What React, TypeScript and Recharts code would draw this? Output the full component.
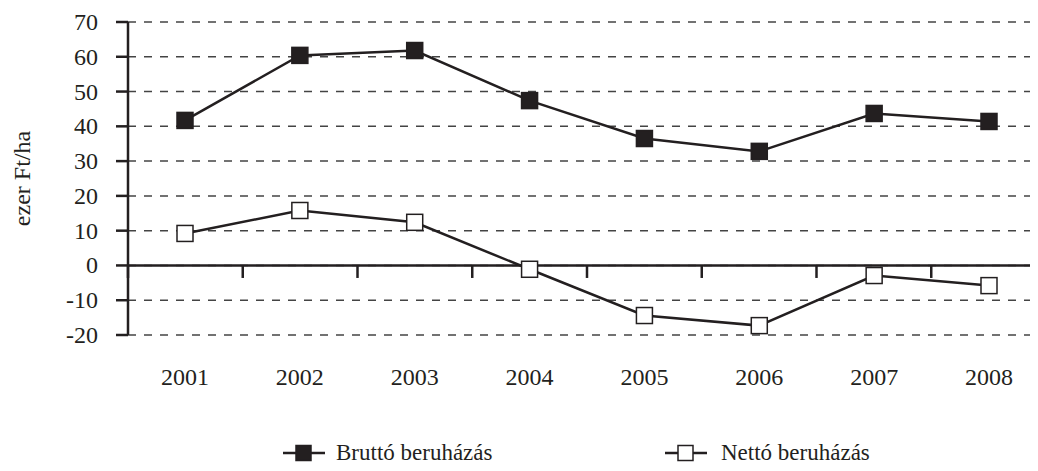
import React from 'react';
import { LineChart, Line, XAxis, YAxis, CartesianGrid, ReferenceLine } from 'recharts';

const years = ['2001', '2002', '2003', '2004', '2005', '2006', '2007', '2008'];
const brutto = [41.7, 60.4, 61.8, 47.4, 36.5, 32.8, 43.7, 41.4];
const netto = [9.2, 15.8, 12.4, -1.1, -14.4, -17.3, -2.9, -5.8];
const yTicks = [-20, -10, 0, 10, 20, 30, 40, 50, 60, 70];
const boundaries = [0, 1, 2, 3, 4, 5, 6, 7, 8];

const data = years.map((year, i) => ({ year, pos: i + 0.5, brutto: brutto[i], netto: netto[i] }));

const INK = '#231f20';
const FONT = '"Liberation Serif", "Times New Roman", Tinos, "Noto Serif", "DejaVu Serif", serif';

const SquareDot = (filled: boolean) => (props: any) => {
  const { cx, cy, index } = props;
  if (cx == null || cy == null) return null;
  return (
    <rect
      key={index}
      x={cx - 8}
      y={cy - 8}
      width={16}
      height={16}
      fill={filled ? INK : '#fff'}
      stroke={INK}
      strokeWidth={1.5}
    />
  );
};

const AxisTitle = (props: any) => {
  const { viewBox } = props;
  const cy = viewBox.y + viewBox.height / 2;
  return (
    <text
      x={22}
      y={cy}
      transform={`rotate(-90, 22, ${cy})`}
      textAnchor="middle"
      dominantBaseline="central"
      fill={INK}
      fontSize={24}
      fontFamily={FONT}
    >
      ezer Ft/ha
    </text>
  );
};

// y tick label, right edge at x-30 like the original
const YTick = (props: any) => {
  const { x, y, payload } = props;
  return (
    <text x={x - 12} y={y} textAnchor="end" dominantBaseline="central" fill={INK} fontSize={24} fontFamily={FONT}>
      {payload.value}
    </text>
  );
};

function LegendMark({ filled }: { filled: boolean }) {
  return (
    <svg width={42} height={20} style={{ display: 'block' }}>
      <line x1={0} y1={10} x2={42} y2={10} stroke={INK} strokeWidth={2.5} />
      <rect x={13} y={2.5} width={15} height={15} fill={filled ? INK : '#fff'} stroke={INK} strokeWidth={1.5} />
    </svg>
  );
}

const legendRow = { position: 'absolute' as const, top: 441, display: 'flex', alignItems: 'center', fontFamily: FONT, fontSize: 23, color: INK };

export default function App() {
  return (
    <div style={{ margin: -8, width: 1038, height: 471, overflow: 'hidden', position: 'relative', background: '#fff' }}>
      <LineChart width={1046} height={471} data={data} margin={{ top: 22, right: 0, left: 0, bottom: 96 }}>
        <CartesianGrid horizontal vertical={false} stroke="#444" strokeWidth={1.5} strokeDasharray="8 8" />
        <XAxis
          dataKey="year"
          axisLine={false}
          tickLine={false}
          tickSize={0}
          tickMargin={33}
          height={40}
          interval={0}
          padding={{ left: 57, right: 57 }}
          tick={{ fill: INK, fontSize: 24, fontFamily: FONT }}
        />
        <XAxis xAxisId="b" dataKey="pos" type="number" domain={[0, 8]} allowDataOverflow hide />
        <YAxis
          width={128}
          domain={[-20, 70]}
          ticks={yTicks}
          interval={0}
          axisLine={{ stroke: INK, strokeWidth: 2.5 }}
          tickLine={{ stroke: INK, strokeWidth: 2.5 }}
          tickSize={12}
          tickMargin={6}
          tick={<YTick />}
          label={<AxisTitle />}
        />
        <ReferenceLine y={0} stroke={INK} strokeWidth={2.5} />
        {boundaries.map((b) => (
          <ReferenceLine
            key={b}
            xAxisId="b"
            segment={[{ x: b, y: 0 }, { x: b, y: -3.6 }]}
            stroke={INK}
            strokeWidth={2.5}
          />
        ))}
        <Line
          dataKey="brutto"
          stroke={INK}
          strokeWidth={2.5}
          dot={SquareDot(true)}
          activeDot={false}
          isAnimationActive={false}
        />
        <Line
          dataKey="netto"
          stroke={INK}
          strokeWidth={2.5}
          dot={SquareDot(false)}
          activeDot={false}
          isAnimationActive={false}
        />
      </LineChart>
      <div style={{ ...legendRow, left: 283 }}>
        <LegendMark filled />
        <span style={{ marginLeft: 11, lineHeight: '24px' }}>Bruttó beruházás</span>
      </div>
      <div style={{ ...legendRow, left: 665 }}>
        <LegendMark filled={false} />
        <span style={{ marginLeft: 14, lineHeight: '24px' }}>Nettó beruházás</span>
      </div>
    </div>
  );
}
